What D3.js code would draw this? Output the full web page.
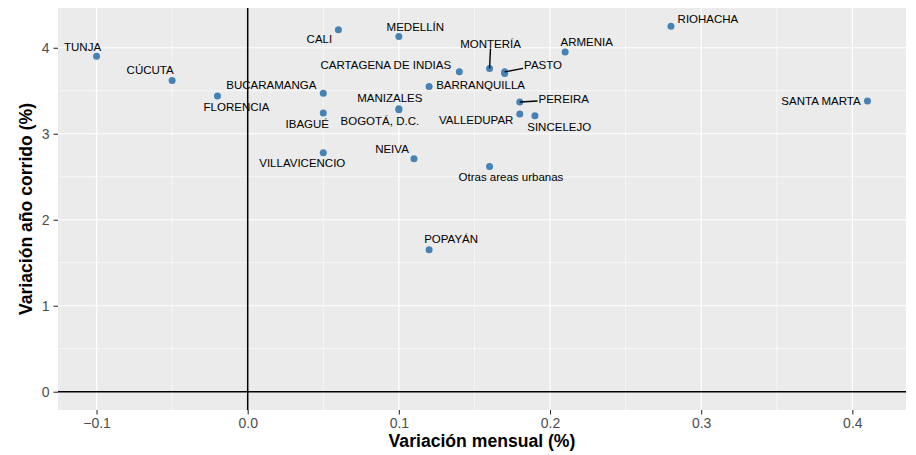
<!DOCTYPE html>
<html>
<head>
<meta charset="utf-8">
<script src="https://cdn.jsdelivr.net/npm/d3@7"></script>
<style>
  body { margin: 0; background: #fff; }
  svg { display: block; font-family: "Liberation Sans", Arial, sans-serif; }
</style>
</head>
<body>
<div id="chart"></div>
<script>
const width = 916;
const height = 455;

// data
const cities = [
	"TUNJA", "CÚCUTA", "FLORENCIA", "BUCARAMANGA", "IBAGUÉ", "VILLAVICENCIO",
	"CALI", "MEDELLÍN", "MANIZALES", "BOGOTÁ, D.C.", "NEIVA", "CARTAGENA DE INDIAS",
	"BARRANQUILLA", "MONTERÍA", "PASTO", "SAN ANDRÉS", "ARMENIA", "RIOHACHA", "PEREIRA",
	"VALLEDUPAR", "SINCELEJO", "SANTA MARTA", "POPAYÁN", "Otras areas urbanas",
];
const mensual = [
	-0.10, -0.05, -0.02, 0.05, 0.05, 0.05,
	0.06, 0.10, 0.10, 0.10, 0.11, 0.14,
	0.12, 0.16, 0.17, 0.17, 0.21, 0.28, 0.18,
	0.18, 0.19, 0.41, 0.12, 0.16,
];
const anual = [
	3.90, 3.62, 3.44, 3.47, 3.24, 2.78,
	4.21, 4.13, 3.29, 3.28, 2.71, 3.72,
	3.55, 3.76, 3.72, 3.70, 3.95, 4.25, 3.37,
	3.23, 3.21, 3.38, 1.65, 2.62,
];
const xTicks = [-0.1, 0.0, 0.1, 0.2, 0.3, 0.4];
const xMinor = [-0.05, 0.05, 0.15, 0.25, 0.35];
const yTicks = [0, 1, 2, 3, 4];
const yMinor = [0.5, 1.5, 2.5, 3.5];

// label placement (text centre offset from the point, px); seg = leader line
const labelPos = {
	"TUNJA": [-14, -10],
	"CÚCUTA": [-22, -11],
	"FLORENCIA": [19, 11],
	"BUCARAMANGA": [-52, -8],
	"IBAGUÉ": [-16, 11],
	"VILLAVICENCIO": [-21, 10],
	"CALI": [-19, 9],
	"MEDELLÍN": [16.5, -10],
	"MANIZALES": [-9, -11],
	"BOGOTÁ, D.C.": [-19, 11],
	"NEIVA": [-22, -10],
	"CARTAGENA DE INDIAS": [-73.5, -7],
	"BARRANQUILLA": [51.5, -1.5],
	"MONTERÍA": [1, -25, true],
	"PASTO": [38.4, -7.4, true],
	"ARMENIA": [21.6, -10.6],
	"RIOHACHA": [37, -7.6],
	"PEREIRA": [44, -2.6, true],
	"VALLEDUPAR": [-43.6, 6],
	"SINCELEJO": [24.3, 11],
	"SANTA MARTA": [-46.5, 0],
	"POPAYÁN": [22, -11],
	"Otras areas urbanas": [21.4, 10],
};

const data = cities.map((c, i) => ({ name: c, x: mensual[i], y: anual[i] }));

const margin = { top: 8, right: 10, bottom: 45, left: 58 };
const innerW = width - margin.left - margin.right;
const innerH = height - margin.top - margin.bottom;

// ggplot style 5% expansion, y range includes the 0 reference line
const xExt = d3.extent(mensual);
const yExt = d3.extent(anual.concat([0]));
const xPad = (xExt[1] - xExt[0]) * 0.05;
const yPad = (yExt[1] - yExt[0]) * 0.05;

const x = d3.scaleLinear().domain([xExt[0] - xPad, xExt[1] + xPad]).range([0, innerW]);
const y = d3.scaleLinear().domain([yExt[0] - yPad, yExt[1] + yPad]).range([innerH, 0]);

const svg = d3.select("#chart").append("svg")
	.attr("width", width)
	.attr("height", height);

const g = svg.append("g").attr("transform", `translate(${margin.left},${margin.top})`);

g.append("rect").attr("width", innerW).attr("height", innerH).attr("fill", "#ebebeb");

// grid
g.selectAll(".xminor").data(xMinor).join("line")
	.attr("x1", d => x(d)).attr("x2", d => x(d)).attr("y1", 0).attr("y2", innerH)
	.attr("stroke", "#fff").attr("stroke-width", 0.6);
g.selectAll(".yminor").data(yMinor).join("line")
	.attr("y1", d => y(d)).attr("y2", d => y(d)).attr("x1", 0).attr("x2", innerW)
	.attr("stroke", "#fff").attr("stroke-width", 0.6);
g.selectAll(".xmajor").data(xTicks).join("line")
	.attr("x1", d => x(d)).attr("x2", d => x(d)).attr("y1", 0).attr("y2", innerH)
	.attr("stroke", "#fff").attr("stroke-width", 1.2);
g.selectAll(".ymajor").data(yTicks).join("line")
	.attr("y1", d => y(d)).attr("y2", d => y(d)).attr("x1", 0).attr("x2", innerW)
	.attr("stroke", "#fff").attr("stroke-width", 1.2);

// reference lines at zero
g.append("line").attr("x1", x(0)).attr("x2", x(0)).attr("y1", 0).attr("y2", innerH)
	.attr("stroke", "#000").attr("stroke-width", 1.5);
g.append("line").attr("y1", y(0)).attr("y2", y(0)).attr("x1", 0).attr("x2", innerW)
	.attr("stroke", "#000").attr("stroke-width", 1.5);

// axes
const xAxis = g.append("g").attr("transform", `translate(0,${innerH})`)
	.call(d3.axisBottom(x).tickValues(xTicks).tickFormat(d3.format(".1f")).tickSize(4.5).tickPadding(4));
const yAxis = g.append("g")
	.call(d3.axisLeft(y).tickValues(yTicks).tickFormat(d3.format("d")).tickSize(4.5).tickPadding(4));
[xAxis, yAxis].forEach(a => {
	a.select(".domain").remove();
	a.selectAll(".tick line").attr("stroke", "#333").attr("stroke-width", 1.1);
	a.selectAll(".tick text").attr("fill", "#4d4d4d")
		.style("font-size", "14px").style("font-family", "Liberation Sans, Arial, sans-serif");
});

// points
g.selectAll(".pt").data(data).join("circle")
	.attr("cx", d => x(d.x)).attr("cy", d => y(d.y)).attr("r", 3.5)
	.attr("fill", "steelblue");

// labels
const fs = 11.5;
const labelled = data.filter(d => labelPos[d.name]);
const labels = g.selectAll(".lab").data(labelled).join("text")
	.attr("x", d => x(d.x) + labelPos[d.name][0])
	.attr("y", d => y(d.y) + labelPos[d.name][1] + fs * 0.36)
	.attr("text-anchor", "middle")
	.style("font-size", fs + "px")
	.attr("fill", "#000")
	.text(d => d.name);

// leader segments from point to label box edge
labels.each(function (d) {
	if (!labelPos[d.name][2]) return;
	const b = this.getBBox();
	const px = x(d.x), py = y(d.y);
	const cx = b.x + b.width / 2, cy = b.y + b.height / 2;
	const hw = b.width / 2 + 1, hh = b.height / 2 - 1;
	const dx = px - cx, dy = py - cy;
	const t = Math.min(Math.abs(hw / dx) || Infinity, Math.abs(hh / dy) || Infinity);
	g.append("line")
		.attr("x1", px).attr("y1", py)
		.attr("x2", cx + dx * t).attr("y2", cy + dy * t)
		.attr("stroke", "#000").attr("stroke-width", 1.4);
});

// axis titles
svg.append("text")
	.attr("x", margin.left + innerW / 2).attr("y", 447)
	.attr("text-anchor", "middle")
	.style("font-size", "17.6px").style("font-weight", "bold")
	.text("Variación mensual (%)");
svg.append("text")
	.attr("transform", `translate(32,${margin.top + innerH / 2}) rotate(-90)`)
	.attr("text-anchor", "middle")
	.style("font-size", "17.6px").style("font-weight", "bold")
	.text("Variación año corrido (%)");
</script>
</body>
</html>
